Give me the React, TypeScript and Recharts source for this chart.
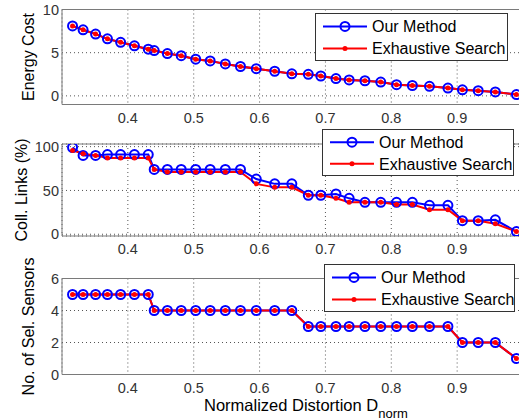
import {
  CartesianGrid,
  Legend,
  Line,
  LineChart,
  ReferenceArea,
  XAxis,
  YAxis,
} from "recharts";

const distortion = [
  0.316, 0.332, 0.351, 0.369, 0.389, 0.41, 0.431, 0.44, 0.46, 0.481, 0.503,
  0.525, 0.548, 0.571, 0.595, 0.623, 0.649, 0.674, 0.693, 0.716, 0.736, 0.76,
  0.784, 0.808, 0.832, 0.858, 0.886, 0.908, 0.932, 0.958, 0.99,
];

const energyOurs = [
  8.1, 7.65, 7.15, 6.6, 6.2, 5.8, 5.4, 5.25, 4.9, 4.65, 4.25, 4.05, 3.7, 3.4,
  3.15, 2.85, 2.55, 2.5, 2.3, 2.0, 1.85, 1.75, 1.6, 1.3, 1.2, 1.1, 0.9, 0.7,
  0.6, 0.45, 0.15,
];
const energyExhaustive = [
  8.1, 7.65, 7.15, 6.6, 6.2, 5.8, 5.4, 5.25, 4.9, 4.65, 4.25, 4.05, 3.7, 3.4,
  3.15, 2.85, 2.55, 2.5, 2.3, 2.0, 1.85, 1.75, 1.6, 1.3, 1.2, 1.1, 0.9, 0.7,
  0.6, 0.45, 0.15,
];

const linksOurs = [
  99, 90, 90, 91, 91, 91, 91, 74, 74, 74, 74, 74, 74, 74, 63, 57.5, 57.5, 44.5,
  44.5, 46, 41, 36.5, 36.5, 36.5, 36.5, 33, 33, 15.5, 15.5, 16.5, 3,
];
const linksExhaustive = [
  95.5, 92, 90, 87, 87, 87, 87, 74, 71, 71, 71, 71, 71, 71, 57.5, 53.5, 53.5,
  44.5, 44.5, 41, 36.5, 36.5, 36.5, 34, 34, 28, 28, 15.5, 15.5, 12, 3,
];

const sensorsOurs = [
  5, 5, 5, 5, 5, 5, 5, 4, 4, 4, 4, 4, 4, 4, 4, 4, 4, 3, 3, 3, 3, 3, 3, 3, 3, 3,
  3, 2, 2, 2, 1,
];
const sensorsExhaustive = [
  5, 5, 5, 5, 5, 5, 5, 4, 4, 4, 4, 4, 4, 4, 4, 4, 4, 3, 3, 3, 3, 3, 3, 3, 3, 3,
  3, 2, 2, 2, 1,
];

const xTicks = [0.4, 0.5, 0.6, 0.7, 0.8, 0.9];
const energyTicks = [0, 5, 10];
const linksTicks = [0, 50, 100];
const sensorsTicks = [0, 2, 4, 6];

const seriesNames = ["Our Method", "Exhaustive Search"];

const FONT = '"Liberation Sans", Arial, Helvetica, sans-serif';
const BLUE = "#0000ff";
const RED = "#ff0000";

// layout of the three stacked axes (page pixels)
const panels = [
  {
    key: "energy",
    ours: energyOurs,
    exhaustive: energyExhaustive,
    domain: [-1, 10],
    ticks: energyTicks,
    title: "Energy Cost",
    titleDx: 23,
    top: 0,
    height: 129.5,
    marginTop: 9.5,
    marginBottom: 0,
    legend: { left: 315, top: 13, width: 193, height: 48 },
  },
  {
    key: "links",
    ours: linksOurs,
    exhaustive: linksExhaustive,
    domain: [-2, 103],
    ticks: linksTicks,
    title: "Coll. Links (%)",
    titleDx: 16,
    top: 125,
    height: 136,
    marginTop: 19,
    marginBottom: 0,
    legend: { left: 322, top: 4, width: 192, height: 47 },
  },
  {
    key: "sensors",
    ours: sensorsOurs,
    exhaustive: sensorsExhaustive,
    domain: [0, 6],
    ticks: sensorsTicks,
    title: "No. of Sel. Sensors",
    titleDx: 23,
    top: 255,
    height: 164.5,
    marginTop: 23.5,
    marginBottom: 20,
    legend: { left: 324, top: 9, width: 191, height: 48 },
  },
];

function LegendBox({ payload, width, height }: any) {
  const rows = [height * 0.28, height * 0.74];
  // keep plotting order: our method first
  const items = [...(payload ?? [])].sort((a: any, b: any) =>
    a.dataKey === "ours" ? -1 : b.dataKey === "ours" ? 1 : 0
  );
  return (
    <svg width={width} height={height} style={{ display: "block" }}>
      <rect
        x={0.5}
        y={0.5}
        width={width - 1}
        height={height - 1}
        fill="#fff"
        stroke="#333"
      />
      {items.map((entry: any, i: number) => {
        const y = rows[i];
        const isOurs = entry.dataKey === "ours";
        return (
          <g key={entry.value}>
            <line x1={8} x2={52} y1={y} y2={y} stroke={entry.color} strokeWidth={2} />
            {isOurs ? (
              <circle cx={30} cy={y} r={4.5} fill="none" stroke={BLUE} strokeWidth={2} />
            ) : (
              <circle cx={30} cy={y} r={2.5} fill={RED} />
            )}
            <text x={57} y={y} dy="0.36em" fontSize={16} fill="#000">
              {entry.value}
            </text>
          </g>
        );
      })}
    </svg>
  );
}

function XTitle() {
  return (
    <text x={204} y={155.8} fontSize={16.5} fill="#000">
      Normalized Distortion D
      <tspan dy={7} fontSize={13}>
        norm
      </tspan>
    </text>
  );
}

function Panel({ panel, last }: any) {
  const data = distortion.map((d, i) => ({
    d,
    ours: panel.ours[i],
    exhaustive: panel.exhaustive[i],
  }));
  const lg = panel.legend;
  return (
    <div style={{ position: "absolute", left: 0, top: panel.top }}>
      <LineChart
        width={530}
        height={panel.height}
        data={data}
        margin={{ top: panel.marginTop, right: 7, bottom: panel.marginBottom, left: 0 }}
      >
        <CartesianGrid stroke="#555" strokeDasharray="1 3" />
        <ReferenceArea
          x1={0.3}
          x2={1}
          y1={panel.domain[0]}
          y2={panel.domain[1]}
          fill="none"
          fillOpacity={0}
          stroke="#7a7a7a"
          strokeWidth={1}
        />
        <XAxis
          type="number"
          dataKey="d"
          domain={[0.3, 1]}
          ticks={xTicks}
          allowDataOverflow
          height={25}
          axisLine={false}
          tickLine={false}
          tick={{ fontSize: 14.5, fill: "#333" }}
          tickFormatter={(v) => Number(v).toFixed(1)}
          label={last ? { content: () => <XTitle /> } : undefined}
        />
        <YAxis
          type="number"
          domain={panel.domain}
          ticks={panel.ticks}
          allowDataOverflow
          width={62}
          axisLine={false}
          tickLine={false}
          tickSize={0}
          tickMargin={3}
          tick={{ fontSize: 14.5, fill: "#333" }}
          label={{
            value: panel.title,
            angle: -90,
            position: "insideLeft",
            dx: panel.titleDx,
            fontSize: 16,
            fill: "#000",
            style: { textAnchor: "middle" },
          }}
        />
        <Line
          type="linear"
          dataKey="ours"
          name={seriesNames[0]}
          stroke={BLUE}
          strokeWidth={2}
          dot={{ r: 4.5, stroke: BLUE, strokeWidth: 2, fill: "none" }}
          activeDot={false}
          isAnimationActive={false}
        />
        <Line
          type="linear"
          dataKey="exhaustive"
          name={seriesNames[1]}
          stroke={RED}
          strokeWidth={2}
          dot={{ r: 2.5, stroke: RED, strokeWidth: 0, fill: RED }}
          activeDot={false}
          isAnimationActive={false}
        />
        <Legend
          layout="vertical"
          verticalAlign="middle"
          align="center"
          wrapperStyle={{ left: lg.left, top: lg.top, width: lg.width, height: lg.height }}
          content={(props: any) => (
            <LegendBox payload={props.payload} width={lg.width} height={lg.height} />
          )}
        />
      </LineChart>
    </div>
  );
}

export default function App() {
  return (
    <div
      style={{
        position: "absolute",
        left: 0,
        top: 0,
        width: 519,
        height: 420,
        overflow: "hidden",
        background: "#fff",
        fontFamily: FONT,
      }}
    >
      {panels.map((p, i) => (
        <Panel key={p.key} panel={p} last={i === panels.length - 1} />
      ))}
    </div>
  );
}
